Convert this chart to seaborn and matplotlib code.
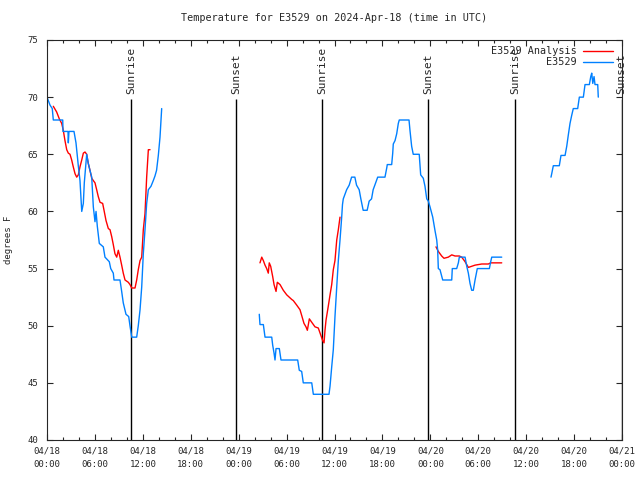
import matplotlib
matplotlib.use("Agg")
import numpy as np
import pandas as pd
import matplotlib.pyplot as plt
import matplotlib.dates as mdates
import seaborn as sns

# hours since 2024-04-18 00:00 UTC, temps in degrees F
obs1_h = [0.0, 0.38, 0.66, 0.79, 1.97, 2.00, 2.63, 2.67, 2.75, 3.38, 3.63, 3.92, 4.13, 4.35,
          4.55, 4.67, 4.97, 5.17, 5.38, 5.60, 5.80, 6.01, 6.14, 6.30, 6.55, 7.05, 7.26, 7.80,
          7.98, 8.30, 8.39, 9.14, 9.35, 9.55, 9.89, 10.23, 10.39, 10.61, 11.23, 11.43, 11.65,
          11.86, 12.06, 12.27, 12.48, 12.69, 13.02, 13.31, 13.52, 13.72, 13.94, 14.15, 14.36]
obs1_t = [70, 69.3, 69, 68, 68, 67, 67, 66, 67, 67, 66, 64, 62.7, 60, 60.7, 62.5, 65, 64.2,
          63.6, 63, 60.4, 59.1, 60, 58.7, 57.2, 56.9, 56, 55.6, 55, 54.6, 54, 54, 53, 52, 51,
          50.8, 50, 49, 49, 50, 51.4, 53.4, 56.3, 58.4, 60.7, 61.9, 62.2, 62.7, 63.1, 63.6,
          64.9, 66.5, 69]

obs2_h = [26.58, 26.67, 27.09, 27.30, 28.14, 28.26, 28.43, 28.55, 28.68, 29.09, 29.30, 31.39,
          31.59, 31.89, 32.09, 33.15, 33.35, 35.31, 35.44, 35.65, 35.85, 36.06, 36.28, 36.48,
          36.69, 36.90, 37.00, 37.10, 37.52, 37.84, 38.14, 38.55, 38.76, 39.09, 39.30, 39.59,
          40.09, 40.34, 40.64, 40.84, 41.05, 41.41, 42.32, 42.54, 42.61, 43.16, 43.29, 43.36,
          43.58, 43.79, 43.99, 44.11, 45.33, 45.45, 45.66, 45.86, 46.61, 46.79, 47.12, 47.33,
          47.55, 47.75, 47.96, 48.30, 48.59, 48.80, 48.92, 49.00, 49.21, 49.55, 50.68, 50.75,
          51.30, 51.51, 51.63, 52.35, 52.56, 52.76, 52.97, 53.18, 53.38, 53.60, 53.88, 55.39,
          55.56, 55.69, 56.94]
obs2_t = [51, 50.1, 50.1, 49, 49, 48.3, 47.6, 47, 48, 48, 47, 47, 46.1, 46, 45, 45, 44, 44,
          44.7, 46.4, 47.9, 50.8, 53.4, 55.7, 57.5, 59.5, 60.6, 61.1, 61.9, 62.3, 63, 63, 62.3,
          61.9, 61.1, 60.1, 60.1, 60.9, 61.1, 61.9, 62.3, 63, 63, 63.8, 64.1, 64.1, 65.1, 65.9,
          66.2, 66.8, 67.7, 68, 68, 67.1, 65.7, 65, 65, 63.2, 62.9, 62.2, 61.1, 60.9, 60.4,
          59.5, 58.3, 57.5, 56.6, 55, 54.9, 54, 54, 55, 55, 55.5, 56, 56, 55.2, 54.6, 53.7,
          53.1, 53.1, 54, 55, 55, 55.6, 56, 56]

obs3_h = [63.11, 63.20, 63.40, 64.15, 64.36, 64.87, 65.08, 65.28, 65.49, 65.70, 65.90, 66.45,
          66.66, 67.16, 67.37, 67.91, 68.09, 68.21, 68.34, 68.50, 68.62, 68.96, 69.03]
obs3_t = [63, 63.3, 64, 64, 64.9, 64.9, 65.7, 66.7, 67.7, 68.4, 69, 69, 70, 70, 71.1, 71.1,
          71.8, 72.1, 71.2, 71.8, 71.1, 71.1, 70]

ana1_h = [0.79, 1.21, 1.54, 1.84, 2.04, 2.25, 2.47, 2.67, 2.88, 3.09, 3.29, 3.51, 3.72, 3.92,
          4.13, 4.35, 4.55, 4.76, 4.97, 5.17, 5.38, 5.60, 5.80, 6.01, 6.22, 6.42, 6.64, 6.97,
          7.14, 7.39, 7.68, 7.89, 8.10, 8.30, 8.51, 8.73, 8.93, 9.14, 9.35, 9.55, 9.77, 10.18,
          10.39, 10.61, 11.02, 11.23, 11.43, 11.65, 11.86, 12.06, 12.27, 12.48, 12.69, 12.90]
ana1_t = [69.2, 68.7, 68.1, 67.7, 67.1, 66.2, 65.4, 65.1, 65, 64.5, 63.9, 63.3, 63, 63.2,
          63.9, 64.5, 65.1, 65.2, 65, 64.2, 63.6, 62.9, 62.7, 62.5, 61.9, 61.3, 60.8, 60.7,
          60.1, 59.2, 58.5, 58.4, 57.8, 57.1, 56.3, 56, 56.6, 56, 55.3, 54.6, 54, 53.8, 53.6,
          53.3, 53.3, 54, 54.9, 55.7, 56, 58.4, 59.8, 63, 65.4, 65.4]

ana2_h = [26.67, 26.89, 27.09, 27.30, 27.51, 27.71, 27.83, 28.01, 28.26, 28.43, 28.68, 28.84,
          29.18, 29.59, 30.02, 30.64, 30.84, 31.27, 31.68, 31.89, 32.18, 32.43, 32.60, 32.85,
          33.15, 33.56, 33.97, 34.27, 34.52, 34.69, 34.81, 34.94, 35.22, 35.44, 35.65, 35.85,
          36.06, 36.28, 36.48, 36.69]
ana2_t = [55.5, 56, 55.7, 55.3, 55, 54.6, 55.5, 55.2, 54.3, 53.6, 53, 53.8, 53.6, 53.1, 52.7,
          52.3, 52.2, 51.8, 51.4, 50.9, 50.2, 49.9, 49.6, 50.6, 50.3, 49.9, 49.8, 49.2, 48.7,
          48.5, 49.6, 50.5, 51.7, 52.7, 53.6, 54.9, 55.7, 57.5, 58.4, 59.5]

ana3_h = [48.71, 49.00, 49.42, 49.71, 50.25, 50.68, 51.09, 51.63, 51.93, 52.35, 52.76, 53.18,
          53.60, 54.44, 55.26, 55.56, 56.94]
ana3_t = [56.9, 56.5, 56.1, 55.9, 56, 56.2, 56.1, 56.1, 56, 55.6, 55.1, 55.2, 55.3, 55.4,
          55.4, 55.5, 55.5]

sun_h = [10.52, 23.67, 34.44, 47.71, 58.60, 71.95]
sun_names = ["Sunrise", "Sunset", "Sunrise", "Sunset", "Sunrise", "Sunset"]

base = pd.Timestamp("2024-04-18 00:00")

# build one long table, a separate unit per gap-free piece
parts = []
pieces = [("E3529 Analysis", ana1_h, ana1_t), ("E3529 Analysis", ana2_h, ana2_t),
          ("E3529 Analysis", ana3_h, ana3_t), ("E3529", obs1_h, obs1_t),
          ("E3529", obs2_h, obs2_t), ("E3529", obs3_h, obs3_t)]
for i, (name, hh, tt) in enumerate(pieces):
    parts.append(pd.DataFrame({"time": base + pd.to_timedelta(hh, unit="h"),
                               "temp": tt, "series": name, "seg": i}))
df = pd.concat(parts, ignore_index=True)

sns.set_style("ticks")
plt.rcParams["font.family"] = ["DejaVu Sans Mono"]

fig = plt.figure(figsize=(6.4, 4.8), dpi=100)
ax = fig.add_axes([47 / 640, 40 / 480, 575 / 640, 400 / 480])

sns.lineplot(data=df, x="time", y="temp", hue="series", units="seg", estimator=None,
             sort=False, hue_order=["E3529 Analysis", "E3529"],
             palette={"E3529 Analysis": "#ff0000", "E3529": "#0080ff"},
             linewidth=1, ax=ax)

# sunrise / sunset markers
sun_t = base + pd.to_timedelta(sun_h, unit="h")
ax.vlines(sun_t, 40, 69.8, color="black", lw=1, zorder=1)
for t, name in zip(sun_t, sun_names):
    ax.text(t, 70.3, name, rotation=90, ha="center", va="bottom", fontsize=8,
            clip_on=False)

ax.set_xlim(base, base + pd.Timedelta(hours=72))
ax.set_ylim(40, 75)
ax.set_yticks(np.arange(40, 76, 5))
ax.xaxis.set_major_locator(mdates.HourLocator(byhour=range(0, 24, 6)))
ax.xaxis.set_minor_locator(mdates.HourLocator(byhour=range(0, 24, 2)))
ax.xaxis.set_major_formatter(mdates.DateFormatter("%m/%d\n%H:%M"))
ax.tick_params(axis="x", which="major", direction="in", length=4, width=0.8,
               top=True, labelsize=6.5, pad=5)
ax.tick_params(axis="y", which="major", direction="in", length=4, width=0.8,
               right=True, labelsize=6.5, pad=6.5)
ax.tick_params(axis="x", which="minor", direction="in", length=2, width=0.8, top=True)
for tk in ax.xaxis.get_major_ticks():
    tk.label1.set_linespacing(1.6)
for s in ax.spines.values():
    s.set_linewidth(0.8)

ax.set_xlabel("")
ax.set_ylabel("degrees F", fontsize=6.5, labelpad=10)
ax.set_title("Temperature for E3529 on 2024-Apr-18 (time in UTC)", fontsize=7.3, pad=14)

ax.legend(loc="upper right", bbox_to_anchor=(0.995, 1.0), frameon=False, markerfirst=False,
          fontsize=7.3, handlelength=3.0, handletextpad=0.6, labelspacing=0.1,
          borderaxespad=0.2, title=None)

fig.savefig("out.png", dpi=100)
